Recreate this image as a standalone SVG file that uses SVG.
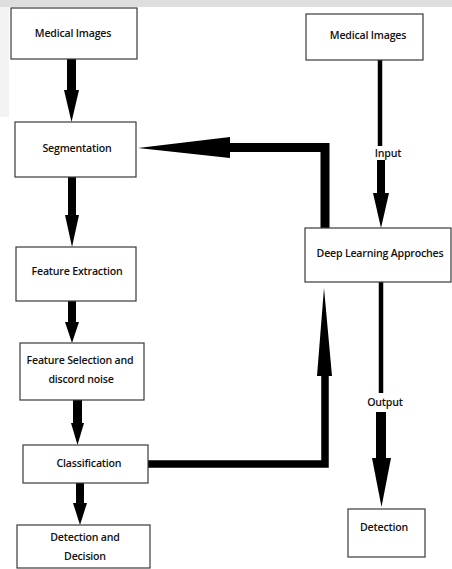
<svg xmlns="http://www.w3.org/2000/svg" width="452" height="569" viewBox="0 0 452 569">
<defs>
<style>
.box{fill:#fff;stroke:#3a3a3a;stroke-width:1.2}
.lbl{font-family:"Open Sans","Liberation Sans",sans-serif;font-size:10.6px;font-weight:600;fill:#111;text-anchor:middle;letter-spacing:-0.2px}
.ln{fill:none;stroke:#000;stroke-linejoin:miter;stroke-linecap:butt}
.hd{fill:#000}
</style>
</defs>
<rect width="452" height="569" fill="#fff"/>
<g id="watermark">
<rect x="0" y="0" width="452" height="7" fill="#dedede"/>
<rect x="0" y="7" width="9" height="110" fill="#f3f3f3"/>
</g>
<g id="connectors">
<rect class="hd" x="67" y="59" width="9" height="32"/>
<polygon class="hd" points="64,90 79,90 71.5,122"/>
<rect class="hd" x="68" y="177" width="8" height="39"/>
<polygon class="hd" points="65,215 79,215 72,247"/>
<rect class="hd" x="68" y="301" width="8" height="23"/>
<polygon class="hd" points="65,322 79,322 72,343"/>
<rect class="hd" x="73" y="400" width="9" height="24"/>
<polygon class="hd" points="71,423 84,423 77.5,445"/>
<rect class="hd" x="76" y="483" width="8" height="21"/>
<polygon class="hd" points="73,503 87,503 80,525"/>
<path class="ln" d="M325 228 V147.5 H229" stroke-width="9"/>
<polygon class="hd" points="230,137 230,158 138,148"/>
<path class="ln" d="M148 464 H325 V374" stroke-width="7.5"/>
<polygon class="hd" points="317,376 332,376 324,288"/>
<path class="ln" d="M380 60 V146" stroke-width="4.5"/>
<rect class="hd" x="377" y="160" width="8" height="34"/>
<polygon class="hd" points="373,193 389,193 381,228"/>
<path class="ln" d="M381 282 V393" stroke-width="4.5"/>
<rect class="hd" x="376" y="412" width="10" height="48"/>
<polygon class="hd" points="372,458 391,458 381.5,507"/>
<text class="lbl" x="388" y="157">Input</text>
<text class="lbl" x="385" y="406">Output</text>
</g>
<g id="n-med-left">
<rect class="box" x="11" y="8" width="126" height="51"/>
<text class="lbl" x="73" y="37">Medical Images</text>
</g>
<g id="n-seg">
<rect class="box" x="15" y="122" width="121" height="55"/>
<text class="lbl" x="77" y="152">Segmentation</text>
</g>
<g id="n-fe">
<rect class="box" x="16" y="247" width="120" height="54"/>
<text class="lbl" x="77" y="275">Feature Extraction</text>
</g>
<g id="n-fs">
<rect class="box" x="20" y="343" width="124" height="57"/>
<text class="lbl" x="80" y="364">Feature Selection and</text>
<text class="lbl" x="81" y="383">discord noise</text>
</g>
<g id="n-class">
<rect class="box" x="23" y="445" width="125" height="38"/>
<text class="lbl" x="89" y="467">Classification</text>
</g>
<g id="n-dd">
<rect class="box" x="17" y="525" width="133" height="43"/>
<text class="lbl" x="85" y="541">Detection and</text>
<text class="lbl" x="85" y="560">Decision</text>
</g>
<g id="n-med-right">
<rect class="box" x="306" y="14" width="117" height="46"/>
<text class="lbl" x="368" y="39">Medical Images</text>
</g>
<g id="n-dl">
<rect class="box" x="305" y="228" width="146" height="54"/>
<text class="lbl" x="380" y="257">Deep Learning Approches</text>
</g>
<g id="n-det">
<rect class="box" x="348" y="509" width="77" height="48"/>
<text class="lbl" x="384" y="531">Detection</text>
</g>
</svg>
